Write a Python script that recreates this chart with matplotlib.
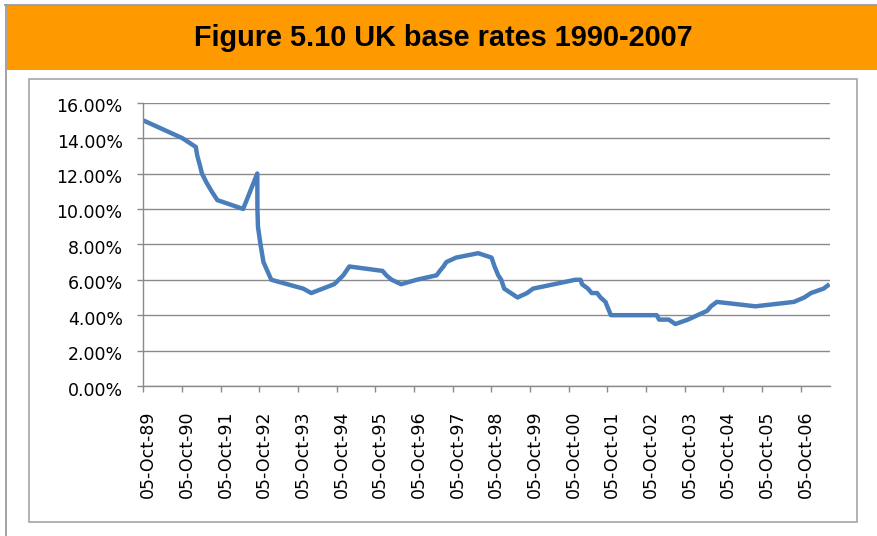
import matplotlib
matplotlib.use("Agg")
import matplotlib.pyplot as plt
import matplotlib.transforms as mtransforms
from matplotlib.patches import Rectangle
from matplotlib.lines import Line2D
from matplotlib import font_manager
import datetime as dt

# ---------------- data ----------------
title = "Figure 5.10 UK base rates 1990-2007"

dates = [
    "1989-10-05", "1990-10-08", "1991-02-13", "1991-02-27", "1991-03-22",
    "1991-04-12", "1991-05-24", "1991-07-12", "1991-09-04", "1992-05-05",
    "1992-09-16", "1992-09-17", "1992-09-22", "1992-10-16", "1992-11-13",
    "1993-01-26", "1993-11-23", "1994-02-08", "1994-09-12", "1994-12-07",
    "1995-02-02", "1995-12-13", "1996-01-18", "1996-03-08", "1996-06-06",
    "1996-10-30", "1997-05-06", "1997-06-06", "1997-07-10", "1997-08-07",
    "1997-11-06", "1998-06-04", "1998-10-08", "1998-11-05", "1998-12-10",
    "1999-01-07", "1999-02-04", "1999-04-08", "1999-06-10", "1999-09-08",
    "1999-11-04", "2000-12-07", "2001-01-26", "2001-02-08", "2001-04-05",
    "2001-05-10", "2001-07-01", "2001-08-02", "2001-09-18", "2001-10-04",
    "2001-11-08", "2003-01-15", "2003-02-06", "2003-05-08", "2003-07-10",
    "2003-11-06", "2004-02-05", "2004-05-06", "2004-06-10", "2004-08-05",
    "2005-08-04", "2006-08-03", "2006-11-09", "2007-01-11", "2007-05-10",
    "2007-07-05",
]
rates = [
    15.0, 14.0, 13.5, 13.0, 12.5,
    12.0, 11.5, 11.0, 10.5, 10.0,
    12.0, 10.0, 9.0, 8.0, 7.0,
    6.0, 5.5, 5.25, 5.75, 6.25,
    6.75, 6.5, 6.25, 6.0, 5.75,
    6.0, 6.25, 6.5, 6.75, 7.0,
    7.25, 7.5, 7.25, 6.75, 6.25,
    6.0, 5.5, 5.25, 5.0, 5.25,
    5.5, 6.0, 6.0, 5.75, 5.5,
    5.25, 5.25, 5.0, 4.75, 4.5,
    4.0, 4.0, 3.75, 3.75, 3.5,
    3.75, 4.0, 4.25, 4.5, 4.75,
    4.5, 4.75, 5.0, 5.25, 5.5,
    5.75,
]
tick_dates = ["%d-10-05" % y for y in range(1989, 2007)]
tick_labels = ["05-Oct-%02d" % (y % 100) for y in range(1989, 2007)]
y_ticks = [0, 2, 4, 6, 8, 10, 12, 14, 16]
y_tick_labels = ["0.00%", "2.00%", "4.00%", "6.00%", "8.00%",
                 "10.00%", "12.00%", "14.00%", "16.00%"]

# ---------------- figure ----------------
W, H = 877, 536
fig = plt.figure(figsize=(W / 100, H / 100), dpi=100)
fig.patch.set_facecolor("white")


def fx(px):
    return px / W


def fy(py):
    return 1 - py / H


# outer grey frame lines and orange title band
fig.add_artist(Rectangle((fx(6.5), fy(70)), 1 - fx(6.5), fy(5.5) - fy(70),
                         transform=fig.transFigure, facecolor="#FF9900",
                         edgecolor="none"))
fig.add_artist(Line2D([fx(5.8), fx(5.8)], [0, fy(4.6)], transform=fig.transFigure,
                      color="#9c9c9c", lw=1.3))
fig.add_artist(Line2D([fx(5), 1], [fy(4.8), fy(4.8)], transform=fig.transFigure,
                      color="#9c9c9c", lw=1.3))
fig.text(fx(443), fy(38), title, ha="center", va="center", fontsize=20.8,
         fontweight="bold", family=["Liberation Sans", "DejaVu Sans"], color="black")

# inner chart box
fig.add_artist(Rectangle((fx(28.5), fy(522)), fx(856.5) - fx(28.5), fy(79) - fy(522),
                         transform=fig.transFigure, fill=False,
                         edgecolor="#a6a6a6", lw=1.2))

ax = fig.add_axes([fx(143.3), fy(386), fx(829.5) - fx(143.3), fy(102.7) - fy(386)])

xd = [dt.datetime.fromisoformat(d) for d in dates]
ax.plot(xd, rates, color="#4A7EBB", lw=3.2, solid_joinstyle="round",
        solid_capstyle="butt")
ax.set_xlim(xd[0], xd[-1])
ax.set_ylim(0, 16)

grey = "#8a8a8a"
ax.set_yticks(y_ticks)
ax.set_yticklabels(y_tick_labels, fontsize=12.5, family="DejaVu Sans", color="black")
ax.yaxis.grid(True, color=grey, lw=1.0)
ax.set_axisbelow(True)

names = {f.name for f in font_manager.fontManager.ttflist}
if "Liberation Sans Narrow" in names:
    xfam, xsize = "Liberation Sans Narrow", 17
else:
    xfam, xsize = "DejaVu Sans", 12.5
ax.set_xticks([dt.datetime.fromisoformat(d) for d in tick_dates])
ax.set_xticklabels(tick_labels, rotation=90, fontsize=xsize, family=xfam, color="black")

for s in ("top", "right"):
    ax.spines[s].set_visible(False)
for s in ("left", "bottom"):
    ax.spines[s].set_color(grey)
    ax.spines[s].set_linewidth(1.0)

ax.tick_params(axis="both", color=grey, length=4.3, width=1.0, direction="out")
ax.tick_params(axis="y", pad=10.5)
ax.tick_params(axis="x", pad=13.5)

off_x = mtransforms.ScaledTranslation(5 / 100, 0, fig.dpi_scale_trans)
for lab in ax.get_xticklabels():
    lab.set_transform(lab.get_transform() + off_x)
off_y = mtransforms.ScaledTranslation(0, -2.5 / 100, fig.dpi_scale_trans)
for lab in ax.get_yticklabels():
    lab.set_transform(lab.get_transform() + off_y)

fig.savefig("out.png", dpi=100)
